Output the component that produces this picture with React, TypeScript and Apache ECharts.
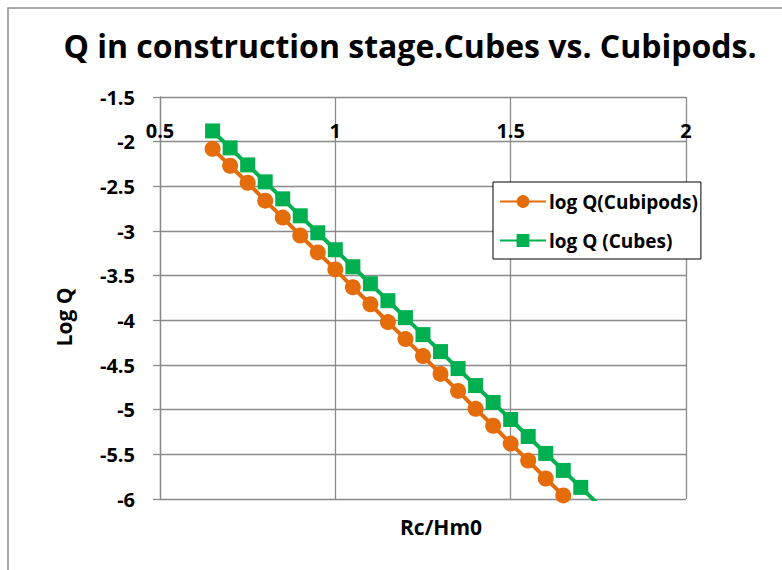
import React, { useEffect, useRef } from "react";
import * as echarts from "echarts";

const titleText = "Q in construction stage.Cubes vs. Cubipods.";
const xAxisTitle = "Rc/Hm0";
const yAxisTitle = "Log Q";
const seriesNames = ["log Q(Cubipods)", "log Q (Cubes)"];

const rcHm0 = [
  0.65, 0.7, 0.75, 0.8, 0.85, 0.9, 0.95, 1.0, 1.05, 1.1, 1.15, 1.2,
  1.25, 1.3, 1.35, 1.4, 1.45, 1.5, 1.55, 1.6, 1.65, 1.7, 1.75,
];
const logQCubipods = [
  -2.08, -2.27, -2.46, -2.66, -2.85, -3.05, -3.24, -3.43, -3.63, -3.82,
  -4.02, -4.21, -4.4, -4.6, -4.79, -4.99, -5.18, -5.38, -5.57, -5.77, -5.96,
];
const logQCubes = [
  -1.88, -2.07, -2.26, -2.45, -2.64, -2.83, -3.02, -3.21, -3.4, -3.59,
  -3.78, -3.97, -4.16, -4.35, -4.54, -4.73, -4.92, -5.11, -5.3, -5.49,
  -5.68, -5.87, -6.06,
];

const FONT = "'Open Sans', 'Noto Sans', sans-serif";
const GRID_COLOR = "#8a8a8a";

export default function App() {
  const ref = useRef<HTMLDivElement>(null);
  useEffect(() => {
    if (!ref.current) return;
    const chart = echarts.init(ref.current, undefined, { renderer: "svg" });
    const pairs = (ys: number[]) => ys.map((y, i) => [rcHm0[i], y]);
    chart.setOption({
      animation: false,
      backgroundColor: "#ffffff",
      textStyle: { fontFamily: FONT },
      title: {
        text: titleText,
        left: 405,
        top: 24,
        textAlign: "center",
        textStyle: { fontFamily: FONT, fontSize: 32, fontWeight: "bold", color: "#000" },
      },
      graphic: [
        {
          type: "rect",
          shape: { x: 8, y: 8, width: 800, height: 600 },
          style: { fill: "none", stroke: "#8c8c8c", lineWidth: 1.5 },
          silent: true,
          z: 0,
        },
        {
          type: "text",
          x: 441,
          y: 527,
          style: {
            text: xAxisTitle,
            fontFamily: FONT,
            fontSize: 21,
            fontWeight: "bold",
            fill: "#000",
            align: "center",
            verticalAlign: "middle",
          },
        },
        {
          type: "text",
          x: 64,
          y: 317,
          rotation: Math.PI / 2,
          style: {
            text: yAxisTitle,
            fontFamily: FONT,
            fontSize: 21,
            fontWeight: "bold",
            fill: "#000",
            align: "center",
            verticalAlign: "middle",
          },
        },
      ],
      legend: {
        orient: "vertical",
        left: 493,
        top: 182,
        backgroundColor: "#fff",
        borderColor: "#000",
        borderWidth: 1,
        borderRadius: 0,
        padding: [10, 3, 9, 6],
        itemWidth: 46,
        itemHeight: 16,
        itemGap: 20,
        textStyle: { fontFamily: FONT, fontSize: 19, fontWeight: "bold", color: "#000", padding: [0, 0, 0, -2] },
        data: seriesNames,
      },
      grid: { left: 160, right: 96, top: 97, bottom: 71, containLabel: false },
      xAxis: {
        type: "value",
        min: 0.5,
        max: 2,
        interval: 0.5,
        position: "top",
        offset: -44.6,
        axisLine: { show: false },
        axisTick: { show: false },
        axisLabel: {
          margin: 1,
          fontFamily: FONT,
          fontSize: 20,
          fontWeight: "bold",
          color: "#000",
          formatter: (v: number) => String(v),
        },
        splitLine: { show: true, lineStyle: { color: GRID_COLOR, width: 1.3 } },
      },
      yAxis: {
        type: "value",
        min: -6,
        max: -1.5,
        interval: 0.5,
        axisLine: { show: true, lineStyle: { color: GRID_COLOR, width: 1.3 } },
        axisTick: { show: true, inside: false, length: 7, lineStyle: { color: GRID_COLOR, width: 1.3 } },
        axisLabel: {
          margin: 25,
          fontFamily: FONT,
          fontSize: 20,
          fontWeight: "bold",
          color: "#000",
          formatter: (v: number) => String(v),
        },
        splitLine: { show: true, lineStyle: { color: GRID_COLOR, width: 1.3 } },
      },
      series: [
        {
          name: seriesNames[0],
          type: "line",
          data: pairs(logQCubipods),
          symbol: "circle",
          symbolSize: 16,
          clip: true,
          color: "#E46C0A",
          lineStyle: { color: "#E46C0A", width: 4 },
          itemStyle: { color: "#E46C0A" },
          z: 3,
        },
        {
          name: seriesNames[1],
          type: "line",
          data: pairs(logQCubes),
          symbol: "rect",
          symbolSize: 15,
          clip: true,
          color: "#00B050",
          lineStyle: { color: "#00B050", width: 4 },
          itemStyle: { color: "#00B050" },
          z: 2,
        },
      ],
    });
    return () => chart.dispose();
  }, []);
  return (
    <div
      ref={ref}
      style={{ position: "fixed", left: 0, top: 0, width: 782, height: 570, background: "#fff" }}
    />
  );
}
